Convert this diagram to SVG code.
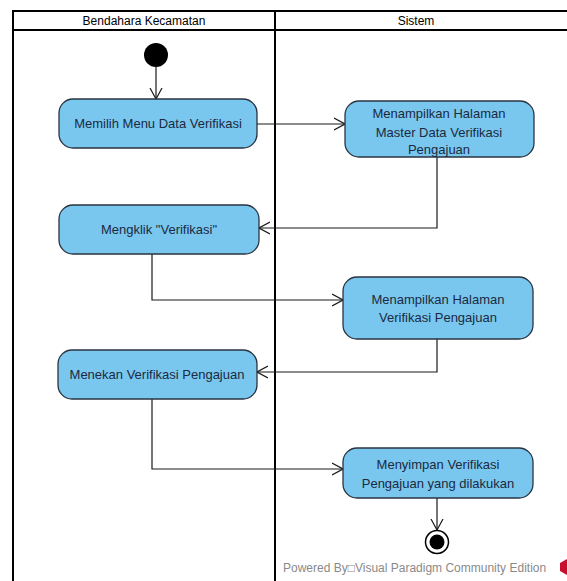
<svg xmlns="http://www.w3.org/2000/svg" width="567" height="581" viewBox="0 0 567 581">
  <style>
    .lane { fill: none; stroke: #000; stroke-width: 2; }
    .hdr { font-family: "Liberation Sans", Arial, sans-serif; font-size: 12px; fill: #000; text-anchor: middle; }
    .act rect { fill: #79C7EE; stroke: #2a3440; stroke-width: 1.3; }
    .act text { font-family: "Liberation Sans", Arial, sans-serif; font-size: 13px; fill: #1b2a3f; text-anchor: middle; }
    .flow { fill: none; stroke: #1a1a1a; stroke-width: 1.2; }
    .mark { font-family: "Liberation Sans", Arial, sans-serif; font-size: 12px; fill: #8a8a8a; }
  </style>
  <defs>
    <marker id="open" markerUnits="userSpaceOnUse" markerWidth="12" markerHeight="14" refX="11" refY="6" orient="auto" viewBox="0 0 12 12">
      <path d="M0,0 L11,6 L0,12" fill="none" stroke="#1a1a1a" stroke-width="1.2"/>
    </marker>
  </defs>

  <rect width="567" height="581" fill="#fff"/>

  <!-- swimlanes -->
  <g id="lanes">
    <path class="lane" d="M13,581 V11 H567 M13,30 H567 M275,11 V581"/>
    <text class="hdr" x="144" y="25">Bendahara Kecamatan</text>
    <text class="hdr" x="416" y="25">Sistem</text>
  </g>

  <!-- control flows -->
  <g id="connectors">
    <path class="flow" d="M156,67 V99" marker-end="url(#open)"/>
    <path class="flow" d="M257,124 H345" marker-end="url(#open)"/>
    <path class="flow" d="M437,157 V228 H259" marker-end="url(#open)"/>
    <path class="flow" d="M152,254 V300 H343" marker-end="url(#open)"/>
    <path class="flow" d="M437,339 V372 H257" marker-end="url(#open)"/>
    <path class="flow" d="M152,399 V469 H343" marker-end="url(#open)"/>
    <path class="flow" d="M437,498 V530" marker-end="url(#open)"/>
  </g>

  <g id="start">
    <circle cx="156" cy="55" r="12" fill="#000"/>
  </g>

  <g id="a1" class="act">
    <rect x="59" y="99" width="198" height="49" rx="14"/>
    <text x="158" y="128">Memilih Menu Data Verifikasi</text>
  </g>

  <g id="a2" class="act">
    <rect x="345" y="101" width="189" height="56" rx="14"/>
    <text x="439" y="118">Menampilkan Halaman</text>
    <text x="439" y="137">Master Data Verifikasi</text>
    <text x="439" y="154">Pengajuan</text>
  </g>

  <g id="a3" class="act">
    <rect x="59" y="205" width="200" height="49" rx="14"/>
    <text x="159" y="234">Mengklik "Verifikasi"</text>
  </g>

  <g id="a4" class="act">
    <rect x="343" y="277" width="190" height="62" rx="14"/>
    <text x="438" y="304">Menampilkan Halaman</text>
    <text x="438" y="322">Verifikasi Pengajuan</text>
  </g>

  <g id="a5" class="act">
    <rect x="58" y="350" width="199" height="49" rx="14"/>
    <text x="157" y="379">Menekan Verifikasi Pengajuan</text>
  </g>

  <g id="a6" class="act">
    <rect x="343" y="448" width="190" height="50" rx="14"/>
    <text x="438" y="469">Menyimpan Verifikasi</text>
    <text x="438" y="488">Pengajuan yang dilakukan</text>
  </g>

  <g id="end">
    <circle cx="437" cy="542" r="11.5" fill="#fff" stroke="#000" stroke-width="1.5"/>
    <circle cx="437" cy="542" r="7.5" fill="#000"/>
  </g>

  <g id="watermark">
    <text class="mark" x="283" y="572">Powered By□Visual Paradigm Community Edition</text>
    <path d="M560,563 L567,559 L567,575 L560,571 Z" fill="#c8102e"/>
  </g>
</svg>
